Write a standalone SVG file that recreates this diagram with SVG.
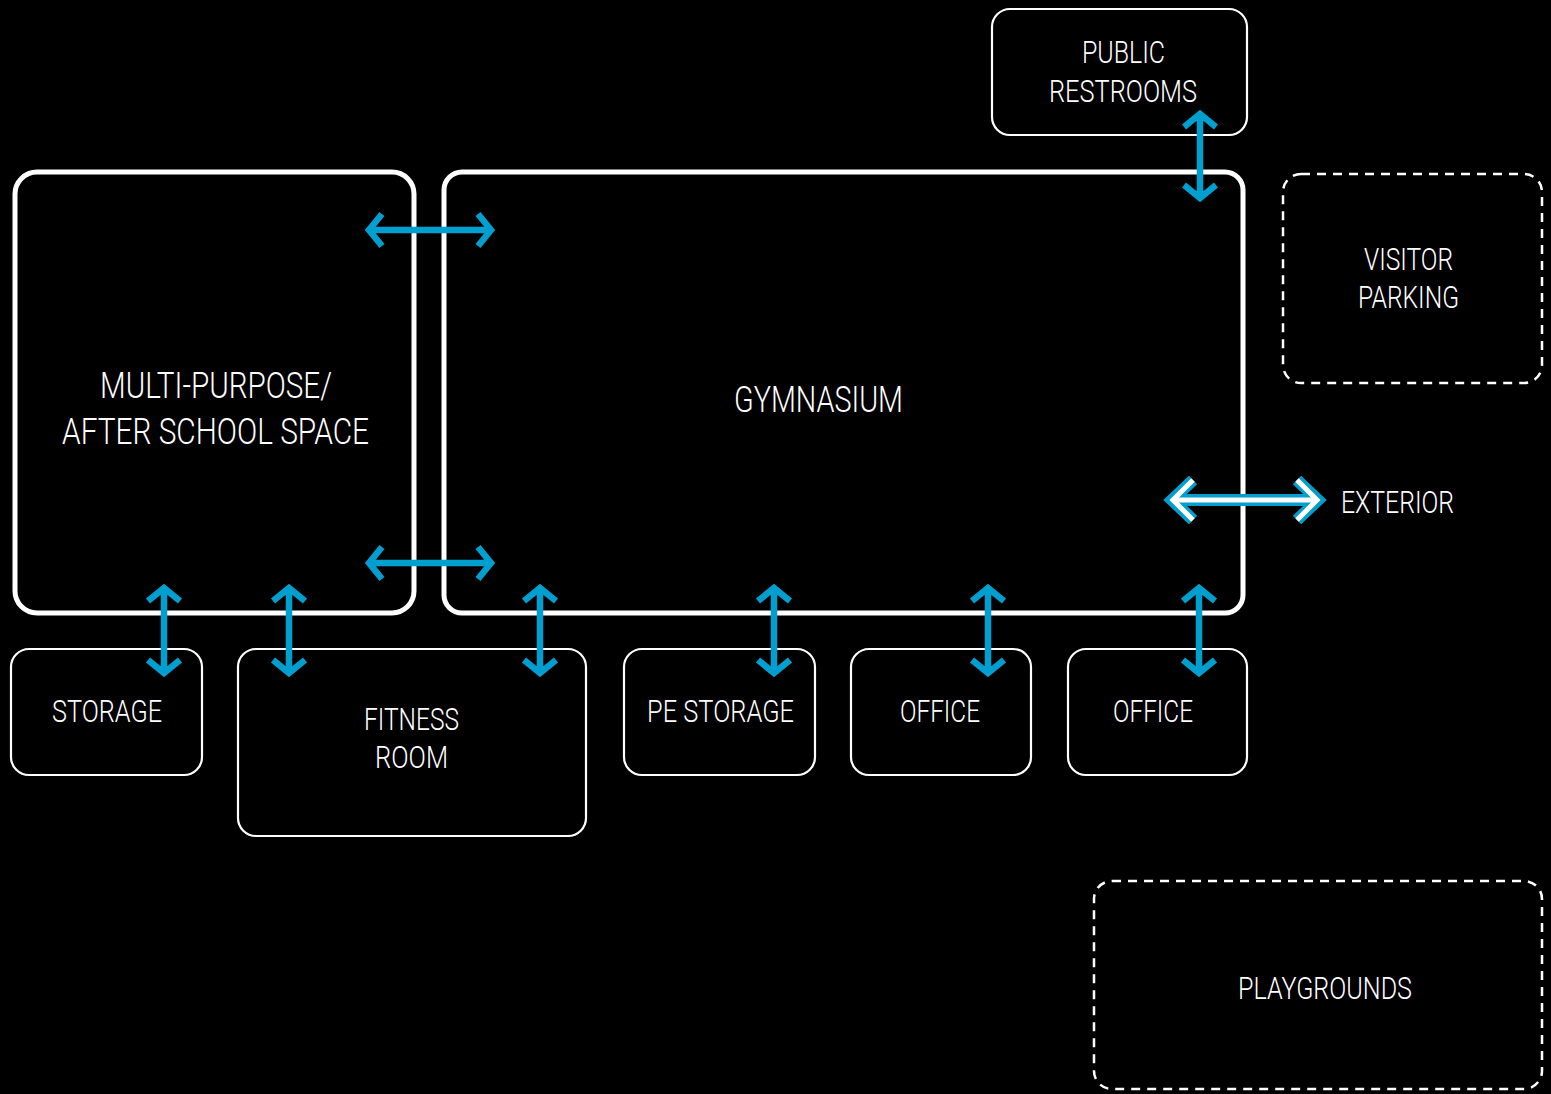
<svg xmlns="http://www.w3.org/2000/svg" width="1551" height="1094" viewBox="0 0 1551 1094">
  <style>
    .bg { fill: #000; }
    .room { fill: none; stroke: #fff; stroke-width: 2.2; }
    .main { fill: none; stroke: #fff; stroke-width: 5; }
    .site { fill: none; stroke: #fff; stroke-width: 2.5; stroke-dasharray: 9 7; }
    .lbl { fill: #fff; font-family: "Roboto", "Liberation Sans", sans-serif; font-size: 32px; text-anchor: middle; font-weight: 300; }
    .big { font-size: 37px; }
    .link { fill: none; stroke: #009fcf; stroke-width: 6.5; stroke-linejoin: miter; stroke-linecap: butt; }
    .ext-o { fill: none; stroke: #009fcf; stroke-width: 12; stroke-linejoin: miter; }
    .ext-i { fill: none; stroke: #fff; stroke-width: 5; stroke-linejoin: miter; }
  </style>
  <rect class="bg" x="0" y="0" width="1551" height="1094"/>

  <g id="multipurpose">
    <rect class="main" x="15" y="172" width="399" height="441" rx="22"/>
    <text class="lbl big" x="216" y="398" textLength="232" lengthAdjust="spacingAndGlyphs">MULTI-PURPOSE/</text>
    <text class="lbl big" x="215.5" y="444" textLength="307" lengthAdjust="spacingAndGlyphs">AFTER SCHOOL SPACE</text>
  </g>
  <g id="gymnasium">
    <rect class="main" x="444" y="172" width="799" height="441" rx="18"/>
    <text class="lbl big" x="818.5" y="412" textLength="169" lengthAdjust="spacingAndGlyphs">GYMNASIUM</text>
  </g>
  <g id="public-restrooms">
    <rect class="room" x="992" y="9" width="255" height="126" rx="18"/>
    <text class="lbl" x="1123.5" y="63" textLength="83" lengthAdjust="spacingAndGlyphs">PUBLIC</text>
    <text class="lbl" x="1123" y="102" textLength="148" lengthAdjust="spacingAndGlyphs">RESTROOMS</text>
  </g>
  <g id="visitor-parking">
    <rect class="site" x="1283" y="174" width="259" height="209" rx="18"/>
    <text class="lbl" x="1408.5" y="270" textLength="89" lengthAdjust="spacingAndGlyphs">VISITOR</text>
    <text class="lbl" x="1408.5" y="308" textLength="101" lengthAdjust="spacingAndGlyphs">PARKING</text>
  </g>
  <g id="exterior">
    <text class="lbl" x="1397.5" y="513" textLength="113" lengthAdjust="spacingAndGlyphs">EXTERIOR</text>
  </g>
  <g id="storage">
    <rect class="room" x="11" y="649" width="191" height="126" rx="18"/>
    <text class="lbl" x="107" y="722" textLength="110" lengthAdjust="spacingAndGlyphs">STORAGE</text>
  </g>
  <g id="fitness-room">
    <rect class="room" x="238" y="649" width="348" height="187" rx="18"/>
    <text class="lbl" x="411.5" y="730" textLength="95" lengthAdjust="spacingAndGlyphs">FITNESS</text>
    <text class="lbl" x="411.5" y="768" textLength="73" lengthAdjust="spacingAndGlyphs">ROOM</text>
  </g>
  <g id="pe-storage">
    <rect class="room" x="624" y="649" width="191" height="126" rx="18"/>
    <text class="lbl" x="720.5" y="722" textLength="147" lengthAdjust="spacingAndGlyphs">PE STORAGE</text>
  </g>
  <g id="office-1">
    <rect class="room" x="851" y="649" width="180" height="126" rx="18"/>
    <text class="lbl" x="940" y="722" textLength="80" lengthAdjust="spacingAndGlyphs">OFFICE</text>
  </g>
  <g id="office-2">
    <rect class="room" x="1068" y="649" width="179" height="126" rx="18"/>
    <text class="lbl" x="1153" y="722" textLength="80" lengthAdjust="spacingAndGlyphs">OFFICE</text>
  </g>
  <g id="playgrounds">
    <rect class="site" x="1094" y="881" width="448" height="208" rx="18"/>
    <text class="lbl" x="1325" y="999" textLength="174" lengthAdjust="spacingAndGlyphs">PLAYGROUNDS</text>
  </g>

  <g id="connectors">
    <!-- horizontal links between multi-purpose space and gymnasium -->
    <path class="link" d="M369 230H491M382 214L369 230L382 246M478 214L491 230L478 246"/>
    <path class="link" d="M369 563H491M382 547L369 563L382 579M478 547L491 563L478 579"/>
    <!-- vertical links to the rooms below -->
    <path class="link" d="M164 588V673M148 601L164 588L180 601M148 660L164 673L180 660"/>
    <path class="link" d="M289 588V673M273 601L289 588L305 601M273 660L289 673L305 660"/>
    <path class="link" d="M540 588V673M524 601L540 588L556 601M524 660L540 673L556 660"/>
    <path class="link" d="M774 588V673M758 601L774 588L790 601M758 660L774 673L790 660"/>
    <path class="link" d="M988 588V673M972 601L988 588L1004 601M972 660L988 673L1004 660"/>
    <path class="link" d="M1199 588V673M1183 601L1199 588L1215 601M1183 660L1199 673L1215 660"/>
    <!-- gymnasium to public restrooms -->
    <path class="link" d="M1200 114V198M1184 127L1200 114L1216 127M1184 185L1200 198L1216 185"/>
    <!-- gymnasium to exterior -->
    <g>
      <path class="ext-o" d="M1172 500H1318M1193 480L1172 500L1193 520M1297 480L1318 500L1297 520"/>
      <path class="ext-i" d="M1174 500H1316M1193 480L1173 500L1193 520M1297 480L1317 500L1297 520"/>
    </g>
  </g>
</svg>
